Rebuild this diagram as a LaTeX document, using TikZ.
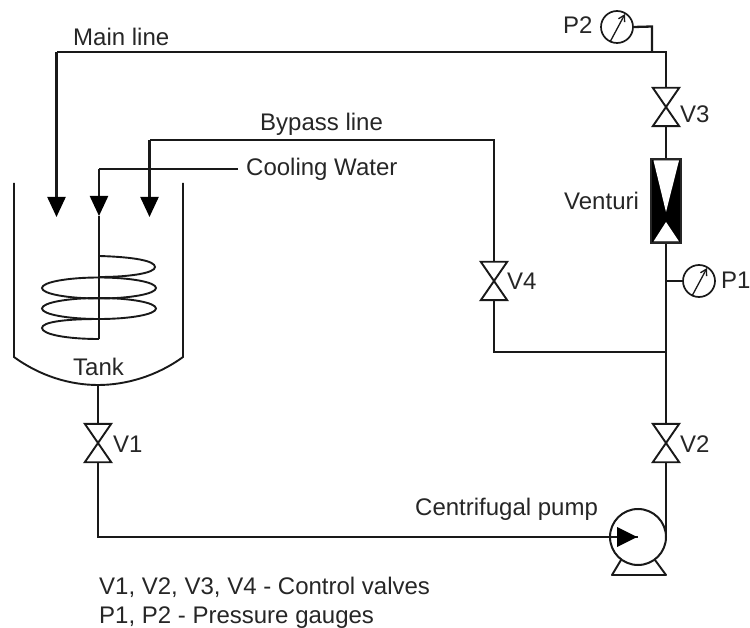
\documentclass[tikz,border=0pt]{standalone}
\usepackage{fontspec}
\setmainfont{Liberation Sans}
\usetikzlibrary{arrows.meta}
\tikzset{
  x=1pt,y=-1pt,
  pipe/.style={draw=black!90,line width=2.3pt,line join=miter},
  thin pipe/.style={draw=black!90,line width=1.9pt},
  flow/.style={pipe,-{Triangle[length=20pt,width=18pt,black]}},
  label/.style={anchor=base west,inner sep=0pt,text=black!85,font=\fontsize{24}{28}\selectfont},
  valvebox/.style={inner sep=0pt,minimum width=26pt,minimum height=38pt},
  gaugebox/.style={circle,draw=black!90,line width=1.7pt,minimum size=32pt,inner sep=0pt},
  gaugeneedle/.style={draw=black!90,line width=1.3pt,-{Straight Barb[length=6pt,width=7pt]}},
}
\newcommand{\valve}[3]{%
  \node[valvebox] (#1) at (#2,#3) {};
  \draw[thin pipe,line join=miter] (#1.north west) -- (#1.north east) -- (#1.south west) -- (#1.south east) -- cycle;
}
\newcommand{\gauge}[3]{%
  \node[gaugebox] (#1) at (#2,#3) {};
  \draw[gaugeneedle] (#1.center) ++(-7,15) -- ++(15,-28);
}
\begin{document}
\begin{tikzpicture}
\useasboundingbox (0,0) rectangle (750,628);
% valves
\valve{V1}{98}{443}
\valve{V2}{666}{443}
\valve{V3}{666}{107}
\valve{V4}{494}{281}
% gauges
\gauge{P2}{617}{27}
\gauge{P1}{699}{281}
% pump
\node[circle,draw=black!90,line width=2pt,minimum size=56pt,inner sep=0pt] (pump) at (638,537) {};
\draw[thin pipe,line join=round] (621,560) -- (612,575) -- (666,575) -- (655,560);
% venturi
\node[rectangle,draw=black!85,fill=black,line width=2pt,minimum width=30pt,minimum height=84pt,inner sep=0pt] (venturi) at (666,201) {};
\fill[white] (653.5,160.5) -- (679,160.5) -- (666,212) -- cycle;
\fill[white] (666,222) -- (679,241.5) -- (653.5,241.5) -- cycle;
% tank
\coordinate (tankTL) at (14,183);
\coordinate (tankBL) at (14,357);
\coordinate (tankTR) at (183,183);
\coordinate (tankBR) at (183,357);
\coordinate (tankB) at (98,385);
\draw[thin pipe] (tankTL) -- (tankBL) .. controls (40,376) and (70,385) .. (tankB) .. controls (126,385) and (157,376) .. (tankBR) -- (tankTR);
% coil
\coordinate (coilTop) at (99,256);
\coordinate (coilBot) at (99,339);
\draw[thin pipe] (coilTop) .. controls (135,257) and (155,261) .. (155,267) .. controls (155,273) and (130,277) .. (99,277);
\draw[thin pipe] (99,288) ellipse [x radius=57,y radius=10.5];
\draw[thin pipe] (99,308.5) ellipse [x radius=57,y radius=10.5];
\draw[thin pipe] (99,319) .. controls (65,319) and (42,322) .. (42,328) .. controls (42,334) and (65,339) .. (coilBot);
% lines
\coordinate (mainTee) at (652,52);
\coordinate (mainCorner) at (56.5,52);
\coordinate (mainTip) at (56.5,217);
\coordinate (p2Corner) at (652,26.5);
\coordinate (coolStart) at (238,169);
\coordinate (coolCorner) at (99,169);
\coordinate (coolTip) at (99,216);
\coordinate (byCorner) at (149.5,140);
\coordinate (byTip) at (149.5,217);
\coordinate (byRight) at (494,140);
\coordinate (vJoin) at (666,352);
\coordinate (v4Low) at (494,352);
\coordinate (pumpCorner) at (98,537);
\coordinate (v2Pump) at (666,537);
\coordinate (mainRight) at (666,52);
\coordinate (p1Tee) at (666,281);
\draw[pipe] (V3.north) -- (mainRight) -- (mainCorner);
\draw[flow] (mainCorner) -- (mainTip);
\draw[pipe] (P2.east) -- (p2Corner) -- (mainTee);
\draw[pipe] (V3.south) -- (venturi.north);
\draw[pipe] (venturi.south) -- (V2.north);
\draw[pipe] (p1Tee) -- (P1.west);
\draw[pipe] (V4.south) -- (v4Low) -- (vJoin);
\draw[pipe] (V4.north) -- (byRight) -- (byCorner);
\draw[flow] (byCorner) -- (byTip);
\draw[pipe] (coolStart) -- (coolCorner);
\draw[flow] (coolCorner) -- (coolTip);
\draw[pipe] (coolTip) -- (coilBot);
\draw[pipe] (V2.south) -- (v2Pump);
\draw[pipe] (tankB) -- (V1.north);
\draw[pipe] (V1.south) -- (pumpCorner) -- (pump.center);
\fill[black] (617,527) -- (637,537) -- (617,547) -- cycle;
% text
\node[label] (tMain) at (73,46) {Main line};
\node[label] (tBypass) at (260,131) {Bypass line};
\node[label] (tCool) at (246,176) {Cooling Water};
\node[label] (tTank) at (73,375) {Tank};
\node[label] (tV1) at (113,452) {V1};
\node[label] (tV2) at (680,452) {V2};
\node[label] (tV3) at (680,123) {V3};
\node[label] (tV4) at (507,290) {V4};
\node[label] (tVent) at (564,210) {Venturi};
\node[label] (tP2) at (563,34) {P2};
\node[label] (tP1) at (721,289) {P1};
\node[label] (tPump) at (415,515) {Centrifugal pump};
\node[label] (tLeg1) at (99,594) {V1, V2, V3, V4 - Control valves};
\node[label] (tLeg2) at (99,623) {P1, P2 - Pressure gauges};
\end{tikzpicture}
\end{document}
